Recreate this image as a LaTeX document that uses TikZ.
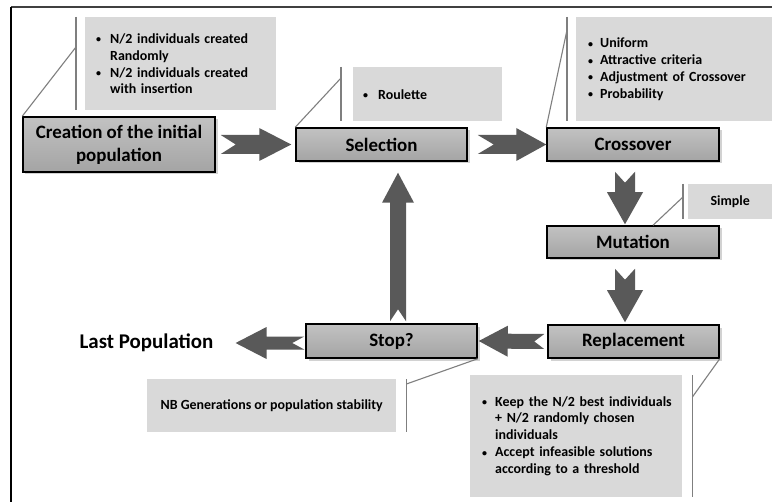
\documentclass[tikz,border=0pt]{standalone}
\usepackage{fontspec}
\setmainfont{Carlito}
\usetikzlibrary{calc,shadows}
\definecolor{arrowgray}{HTML}{595959}
\definecolor{calloutgray}{HTML}{D9D9D9}
\definecolor{leadergray}{HTML}{7F7F7F}
\definecolor{boxtop}{HTML}{C2C2C2}
\definecolor{boxbot}{HTML}{A4A4A4}
\newcommand\blockarrow[6]{%
  \path (#1) coordinate (ba-a) (#2) coordinate (ba-b);
  \path ($(ba-b)!#5!(ba-a)$) coordinate (ba-h);
  \fill[arrowgray] ($(ba-a)!#3!90:(ba-b)$) -- ($(ba-h)!#3!90:(ba-b)$) -- ($(ba-h)!#4!90:(ba-b)$) -- (ba-b)
    -- ($(ba-h)!#4!-90:(ba-b)$) -- ($(ba-h)!#3!-90:(ba-b)$) -- ($(ba-a)!#3!-90:(ba-b)$) -- ($(ba-a)!#6!(ba-b)$) -- cycle;}
\newcommand\bul[1]{\makebox[#1][l]{\raisebox{0.5bp}{\fontsize{10}{10}\selectfont\textbullet}}}
\begin{document}
\begin{tikzpicture}[x=1bp,y=-1bp,
  stepbox/.style={draw=black, line width=1.5bp, top color=boxtop, bottom color=boxbot,
    drop shadow={shadow xshift=2.5bp, shadow yshift=-2.5bp, opacity=0.35},
    font=\fontsize{19}{23}\selectfont\bfseries, align=center, inner sep=0pt},
  callout/.style={fill=calloutgray, draw=none, font=\fontsize{14}{17}\selectfont\bfseries, inner ysep=0pt},
  leader/.style={draw=leadergray, line width=1.1bp}]
\useasboundingbox (0,0) rectangle (772,502);
\fill[white] (0,0) rectangle (772,502);
\draw[line width=1.5bp, black!75] (11,7) -- (772,7);
\draw[line width=1.6bp, black] (11,7) -- (11,502);

% callouts
\node[callout, anchor=north west, minimum height=93bp, text width=169bp, inner xsep=11bp, align=left] (c1) at (85,17)
  {\mbox{\bul{14bp}N/2 individuals created}\\ \mbox{\hspace*{14bp}Randomly}\\ \mbox{\bul{14bp}N/2 individuals created}\\ \mbox{\hspace*{14bp}with insertion}};
\node[callout, anchor=north west, minimum height=54bp, text width=129bp, inner xsep=10bp, align=left] (c2) at (353,67)
  {\mbox{\bul{15bp}Roulette}};
\node[callout, anchor=north west, minimum height=104bp, text width=172bp, inner xsep=12bp, align=left] (c3) at (576,17)
  {\mbox{\bul{12bp}Uniform}\\ \mbox{\bul{12bp}Attractive criteria}\\ \mbox{\bul{12bp}Adjustment of Crossover}\\ \mbox{\bul{12bp}Probability}};
\node[callout, anchor=north west, minimum height=35bp, minimum width=84bp, inner xsep=0pt] (c4) at (688,184) {Simple};
\node[callout, anchor=north west, minimum height=122bp, text width=188bp, inner xsep=12bp, align=left] (c5) at (470,375)
  {\mbox{\bul{13bp}Keep the N/2 best individuals}\\ \mbox{\hspace*{13bp}+ N/2 randomly chosen}\\ \mbox{\hspace*{13bp}individuals}\\ \mbox{\bul{13bp}Accept infeasible solutions}\\ \mbox{\hspace*{13bp}according to a threshold}};
\node[callout, anchor=north west, minimum height=53bp, minimum width=249bp, inner xsep=0pt] (c6) at (147,379)
  {NB Generations or population stability};

% process boxes
\node[stepbox, minimum width=192bp, minimum height=55bp] (creation) at (119,144.5) {Creation of the initial\\population};
\node[stepbox, minimum width=171bp, minimum height=33bp] (selection) at (381.5,144.5) {Selection};
\node[stepbox, minimum width=172bp, minimum height=33bp] (crossover) at (633,144.5) {Crossover};
\node[stepbox, minimum width=172bp, minimum height=32bp] (mutation) at (633,242) {Mutation};
\node[stepbox, minimum width=171bp, minimum height=33bp] (replacement) at (633.5,341.5) {Replacement};
\node[stepbox, minimum width=171bp, minimum height=34bp] (stop) at (391.5,341) {Stop?};
\node[font=\fontsize{21}{25}\selectfont\bfseries, inner sep=0pt] (last) at (146.5,343) {Last Population};

% callout leaders
\draw[leader] ($(c1.north west)+(-9,0)$) -- ($(c1.south west)+(-9,0)$);
\draw[leader] ($(c1.north west)+(-9,30)$) -- (creation.north west);
\draw[leader] ($(c2.north west)+(-12,0)$) -- ($(c2.south west)+(-12,0)$);
\draw[leader] ($(c2.north west)+(-12,11)$) -- (selection.north west);
\draw[leader] ($(c3.north west)+(-9,0)$) -- ($(c3.south west)+(-9,0)$);
\draw[leader] ($(c3.north west)+(-9,13)$) -- (crossover.north west);
\draw[leader] ($(c4.north west)+(-5,0)$) -- ($(c4.south west)+(-5,0)$);
\draw[leader] ($(c4.north west)+(-5,13)$) -- ($(mutation.north)+(20,0)$);
\draw[leader] ($(c5.north east)+(10,0)$) -- ($(c5.south east)+(10,0)$);
\draw[leader] ($(c5.north east)+(10,22)$) -- (replacement.south east);
\draw[leader] ($(c6.north east)+(10,0)$) -- ($(c6.south east)+(10,0)$);
\draw[leader] ($(c6.north east)+(10,5)$) -- (stop.south east);

% block arrows
\blockarrow{$(creation.east)+(5,0)$}{$(selection.west)+(-4,0)$}{9.5bp}{16.5bp}{32bp}{15bp}
\blockarrow{$(selection.east)+(10,0)$}{crossover.west}{9.5bp}{16.5bp}{30bp}{16bp}
\blockarrow{$(crossover.south)+(-8,10)$}{$(mutation.north)+(-8,-1)$}{10bp}{18bp}{32bp}{11bp}
\blockarrow{$(mutation.south)+(-8,10)$}{$(replacement.north)+(-8.5,-2)$}{10bp}{18bp}{32bp}{11bp}
\blockarrow{$(replacement.west)+(-3,0)$}{$(stop.east)+(1,0)$}{7.5bp}{15.5bp}{29bp}{10bp}
\blockarrow{$(stop.west)+(-1,2)$}{$(last.east)+(22,0)$}{6.5bp}{16bp}{31bp}{12bp}
\blockarrow{$(stop.north)+(6.5,-2)$}{$(selection.south)+(16.5,11)$}{8bp}{16bp}{30bp}{12bp}
\end{tikzpicture}
\end{document}
